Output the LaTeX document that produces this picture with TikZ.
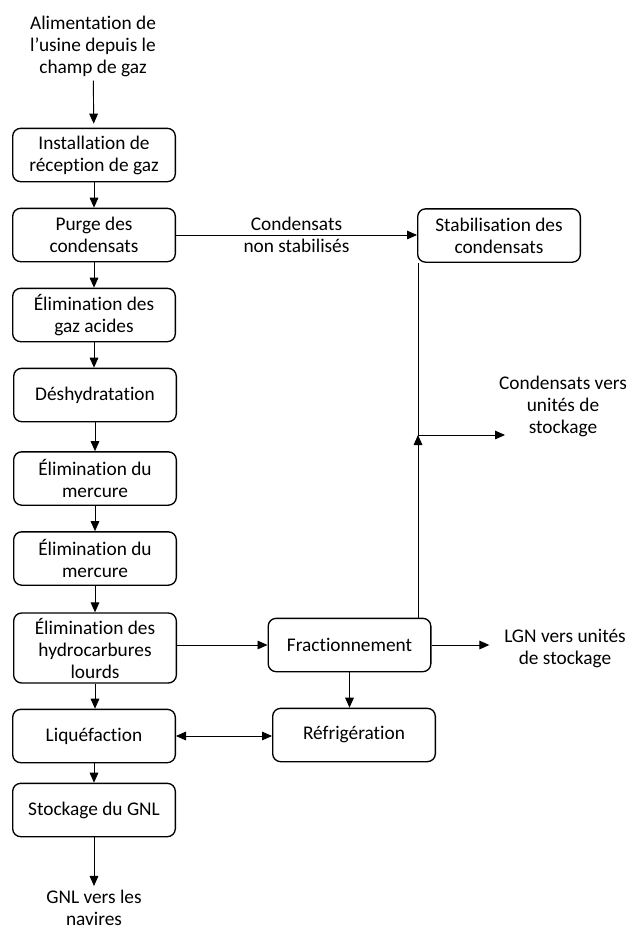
\documentclass[tikz,border=0pt]{standalone}
\usepackage{fontspec}
\setmainfont{Carlito}[Ligatures=NoCommon]
\usepackage{tikz}
\usetikzlibrary{arrows.meta,positioning}

\begin{document}
\begin{tikzpicture}[
    x=0.75pt, y=-0.75pt,
    box/.style={draw, rounded corners=6pt, line width=1pt, align=center,
                minimum width=122pt, minimum height=40pt, inner sep=2pt,
                font=\fontsize{14.5}{16.5}\selectfont},
    txt/.style={align=center, inner sep=3pt,
                font=\fontsize{14.5}{16.5}\selectfont},
    arr/.style={-{Triangle[length=7.5pt, width=6.5pt]}, line width=0.7pt},
    dbl/.style={{Triangle[length=7.5pt, width=6.5pt]}-{Triangle[length=7.5pt, width=6.5pt]}, line width=0.7pt},
    lnk/.style={line width=0.7pt}
  ]
  \useasboundingbox (0,0) rectangle (631,931);
  % --- Main column ---
  \node[txt] (feed) at (93, 46) {Alimentation de\\l’usine depuis le\\champ de gaz};
  \node[box] (inst) at (94, 155) {Installation de\\réception de gaz};
  \node[box] (purge) at (94, 235) {Purge des\\condensats};
  \node[box] (acid) at (94, 315) {Élimination des\\gaz acides};
  \node[box] (deshy) at (95, 395) {Déshydratation};
  \node[box] (merc1) at (95, 478.5) {Élimination du\\mercure};
  \node[box] (merc2) at (95, 558.5) {Élimination du\\mercure};
  \node[box, minimum height=52.5pt] (hc) at (95, 648) {Élimination des\\hydrocarbures\\lourds};
  \node[box] (liq) at (94, 736) {Liquéfaction};
  \node[box] (stock) at (94, 810) {Stockage du GNL};
  \node[txt] (ship) at (94, 908) {GNL vers les\\navires};
  \draw[arr, shorten >=3pt] (feed) -- (inst);
  \draw[arr] (inst) -- (purge);
  \draw[arr] (purge) -- (acid);
  \draw[arr] (acid.south) -- (acid.south |- deshy.north);
  \draw[arr] (deshy) -- (merc1);
  \draw[arr] (merc1) -- (merc2);
  \draw[arr] (merc2) -- (hc);
  \draw[arr] (hc.south) -- (hc.south |- liq.north);
  \draw[arr] (liq) -- (stock);
  \draw[arr] (stock) -- (ship);
  % --- Condensate branch ---
  \node[box] (stab) at (499, 235.5) {Stabilisation des\\condensats};
  \node[txt] (condout) at (563, 406) {Condensats vers\\unités de\\stockage};
  \coordinate (junc) at (418, 435);
  \coordinate (condend) at (505, 435);
  \draw[arr] (purge.east) -- (stab.west |- purge.east)
    node[midway, txt] {Condensats\\non stabilisés};
  \draw[lnk] (junc |- stab.south) -- (junc);
  \draw[arr] (junc) -- (condend);
  % --- Fractionation and refrigeration ---
  \node[box] (frac) at (349.5, 645) {Fractionnement};
  \node[box] (refrig) at (354, 735) {Réfrigération};
  \node[txt] (lgn) at (565, 649) {LGN vers unités\\de stockage};
  \draw[arr] (hc.east |- frac.west) -- (frac.west);
  \draw[arr] (junc |- frac.north) -- (junc);
  \draw[arr, shorten >=8pt] (frac.east) -- (frac.east -| lgn.west);
  \draw[arr] (frac.south) -- (frac.south |- refrig.north);
  \draw[dbl] (liq.east) -- (liq.east -| refrig.west);
\end{tikzpicture}
\end{document}
